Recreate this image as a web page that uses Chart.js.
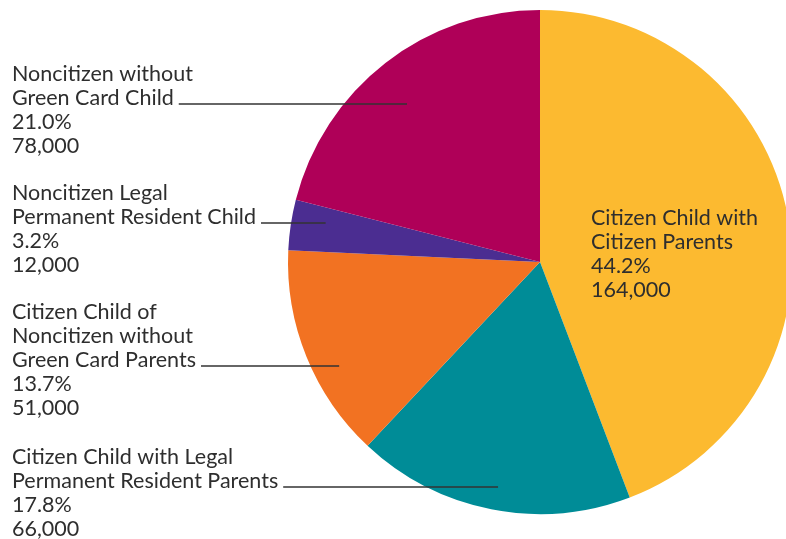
<!DOCTYPE html>
<html>
<head>
<meta charset="utf-8">
<script src="https://cdn.jsdelivr.net/npm/chart.js@4/dist/chart.umd.min.js"></script>
<style>
  html, body { margin: 0; padding: 0; background: #fff; overflow: hidden; }
  #wrap { position: relative; width: 800px; height: 539px; }
</style>
</head>
<body>
<div id="wrap"><canvas id="pie"></canvas></div>
<script>
// slices, clockwise from 12 o'clock
const categories = [
  ['Citizen Child with', 'Citizen Parents'],
  ['Citizen Child with Legal', 'Permanent Resident Parents'],
  ['Citizen Child of', 'Noncitizen without', 'Green Card Parents'],
  ['Noncitizen Legal', 'Permanent Resident Child'],
  ['Noncitizen without', 'Green Card Child']
];
const counts = [164000, 66000, 51000, 12000, 78000];
const shares = ['44.2%', '17.8%', '13.7%', '3.2%', '21.0%'];
const countLabels = ['164,000', '66,000', '51,000', '12,000', '78,000'];
const colors = ['#FCBA30', '#008C97', '#F27222', '#4B2D91', '#AF0058'];

// where each text block sits (first baseline) and which line carries the leader
const labelSpots = [
  { x: 591, y: 225, leader: null },
  { x: 12, y: 464, leader: 1 },
  { x: 12, y: 319, leader: 2 },
  { x: 12, y: 200, leader: 1 },
  { x: 12, y: 81, leader: 1 }
];
const FONT = '21.5px Lato, "Noto Sans", sans-serif';
const LINE_H = 24;

const labelPlugin = {
  id: 'sideLabels',
  afterDraw(chart) {
    const ctx = chart.ctx;
    const arcs = chart.getDatasetMeta(0).data;
    ctx.save();
    ctx.font = FONT;
    ctx.fillStyle = '#2e2e2e';
    ctx.textBaseline = 'alphabetic';
    ctx.textAlign = 'left';
    categories.forEach((name, i) => {
      const spot = labelSpots[i];
      const lines = name.concat([shares[i], countLabels[i]]);
      lines.forEach((t, k) => ctx.fillText(t, spot.x, spot.y + k * LINE_H));
      if (spot.leader !== null) {
        const arc = arcs[i];
        const mid = (arc.startAngle + arc.endAngle) / 2;
        const endX = arc.x + Math.cos(mid) * arc.outerRadius * 0.86;
        const y = spot.y + spot.leader * LINE_H - 1;
        const startX = spot.x + ctx.measureText(lines[spot.leader]).width + 5;
        ctx.beginPath();
        ctx.strokeStyle = '#333';
        ctx.lineWidth = 1.5;
        ctx.moveTo(startX, y);
        ctx.lineTo(endX, y);
        ctx.stroke();
      }
    });
    ctx.restore();
  }
};

new Chart(document.getElementById('pie'), {
  type: 'pie',
  data: {
    labels: categories.map(c => c.join(' ')),
    datasets: [{
      data: counts,
      backgroundColor: colors,
      borderWidth: 0
    }]
  },
  options: {
    responsive: true,
    maintainAspectRatio: false,
    animation: false,
    layout: { padding: { left: 288, top: 10, right: 8, bottom: 25 } },
    plugins: {
      legend: { display: false },
      tooltip: { enabled: false }
    }
  },
  plugins: [labelPlugin]
});
</script>
</body>
</html>
